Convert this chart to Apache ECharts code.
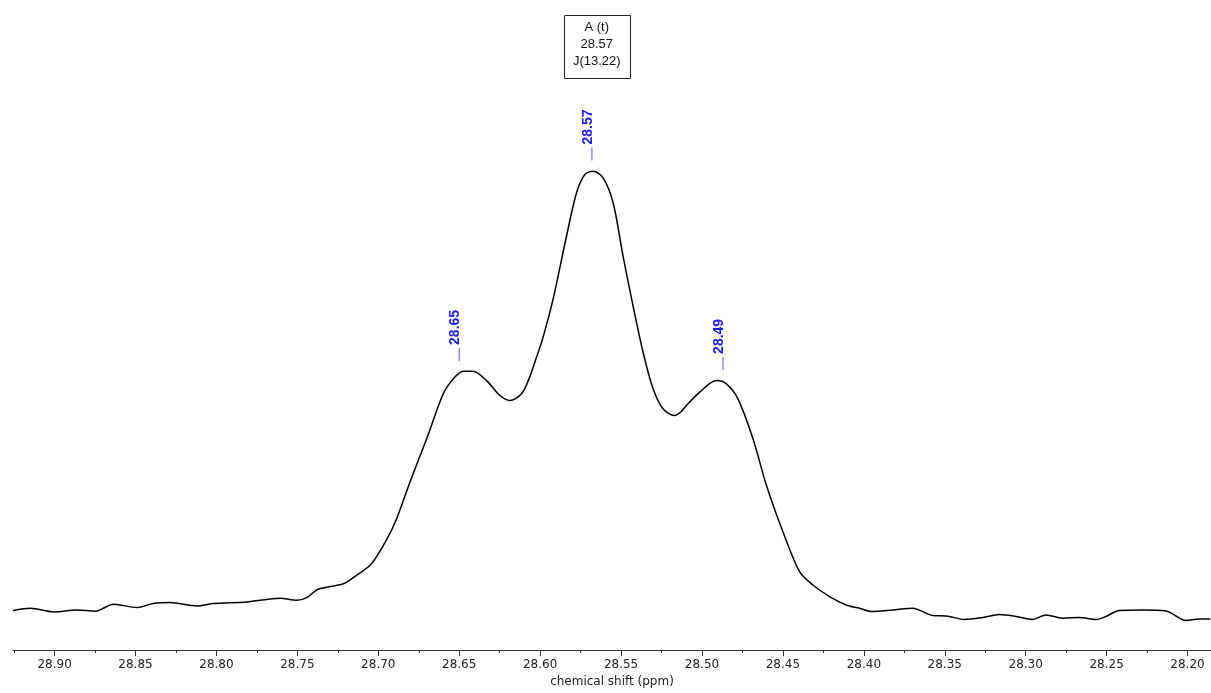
<!DOCTYPE html>
<html>
<head>
<meta charset="utf-8">
<script src="https://cdn.jsdelivr.net/npm/echarts@6/dist/echarts.min.js"></script>
<style>
html,body{margin:0;padding:0;background:#fff;}
#chart{width:1211px;height:693px;}
</style>
</head>
<body>
<div id="chart"></div>
<script>
// Spectrum trace: chemical shift (ppm) and intensity (arbitrary units)
const ppm = [28.9257,28.9150,28.9006,28.8862,28.8749,28.8636,28.8491,28.8391,28.8286,28.8121,
28.8019,28.7812,28.7607,28.7504,28.7442,28.7372,28.7216,28.7133,28.7045,28.6948,
28.6886,28.6804,28.6701,28.6599,28.6537,28.6475,28.6414,28.6331,28.6249,28.6187,
28.6115,28.6064,28.6022,28.5985,28.5920,28.5837,28.5775,28.5724,28.5673,28.5611,
28.5549,28.5488,28.5426,28.5364,28.5302,28.5241,28.5169,28.5130,28.5096,28.5014,28.4911,
28.4849,28.4778,28.4685,28.4602,28.4500,28.4397,28.4315,28.4212,28.4109,28.4027,
28.3954,28.3821,28.3698,28.3574,28.3491,28.3378,28.3265,28.3162,28.3059,28.2957,
28.2874,28.2772,28.2669,28.2565,28.2504,28.2422,28.2278,28.2133,28.2010,28.1928,28.1860];
const intensity = [39.7,42,38.3,40.3,39,46,42.7,46.7,47.7,44.3,
46.7,48.3,52,50,52.7,61,66.5,75.3,86,111,
132,168.7,212,257,272,279.7,279.7,270.3,255.3,250.3,
257,274,294,312,352,415.3,458.7,477,480.3,473.7,
448.7,395.3,345.3,298.7,262,242,235.3,239,245.3,258.7,270.3,
267,252,212,165.3,118.7,78.7,65.3,53.7,45.3,42,
38.7,40.3,42,34.7,34.3,30.7,32.7,35.7,33.7,30.7,
35.3,32,32.7,30.7,33.7,39.7,40.3,39.3,29.7,31.3,31.3];

// Peak picks
const peakPositions = [28.650, 28.568, 28.487];
const peakIntensity = [280, 481, 271];
const peakLabels = ['28.65', '28.57', '28.49'];

// Multiplet annotation
const multipletName = 'A (t)';
const multipletShift = '28.57';
const multipletJ = 'J(13.22)';
const multipletRange = [28.70, 28.43];

// Axis ticks
const majorTicks = [28.90,28.85,28.80,28.75,28.70,28.65,28.60,28.55,28.50,28.45,28.40,28.35,28.30,28.25,28.20];
const minorTicks = [28.925,28.875,28.825,28.775,28.725,28.675,28.625,28.575,28.525,28.475,28.425,28.375,28.325,28.275,28.225];
const xRange = [28.1855, 28.9257];

const trace = ppm.map((v, i) => [v, intensity[i]]);
const peaks = peakPositions.map((v, i) => [v, peakIntensity[i], i]);
const boxCenter = (multipletRange[0] + multipletRange[1]) / 2;

const chart = echarts.init(document.getElementById('chart'), null, {renderer: 'canvas'});
const axisFont = '"DejaVu Sans", Verdana, sans-serif';

chart.setOption({
  animation: false,
  backgroundColor: '#ffffff',
  grid: {left: 13, right: 0, top: 0, bottom: 41, containLabel: false},
  xAxis: [{
    type: 'value', inverse: true, min: xRange[0], max: xRange[1],
    name: 'chemical shift (ppm)', nameLocation: 'middle', nameGap: 22,
    nameTextStyle: {fontFamily: axisFont, fontSize: 12, color: '#222'},
    axisLine: {show: true, lineStyle: {color: '#333', width: 1}},
    axisTick: {show: true, customValues: majorTicks, length: 6, inside: false, lineStyle: {color: '#333'}},
    axisLabel: {show: true, customValues: majorTicks, formatter: v => v.toFixed(2), fontFamily: axisFont, fontSize: 12, color: '#222', margin: 9},
    splitLine: {show: false}
  }, {
    type: 'value', inverse: true, min: xRange[0], max: xRange[1], position: 'bottom',
    axisLine: {show: false},
    axisTick: {show: true, customValues: minorTicks, length: 3, lineStyle: {color: '#333'}},
    axisLabel: {show: false, customValues: minorTicks},
    splitLine: {show: false}
  }],
  yAxis: {type: 'value', min: 0, max: 652, show: false},
  series: [{
    type: 'line', data: trace, xAxisIndex: 0, smooth: 0.3, symbol: 'none',
    lineStyle: {color: '#000', width: 1.5}
  }, {
    type: 'custom', data: peaks, xAxisIndex: 0,
    renderItem: function (params, api) {
      const p = api.coord([api.value(0), api.value(1)]);
      const x = p[0];
      const yb = p[1] - 10;
      return {
        type: 'group',
        children: [{
          type: 'line',
          shape: {x1: x, y1: yb, x2: x, y2: yb - 13},
          style: {stroke: '#5555ff', lineWidth: 1}
        }, {
          type: 'text',
          x: x - 4, y: yb - 16, rotation: Math.PI / 2,
          style: {
            text: peakLabels[api.value(2)],
            fill: '#1a1aff',
            font: 'bold 14px "Liberation Sans", Arial, sans-serif',
            align: 'left', verticalAlign: 'middle'
          }
        }]
      };
    }
  }, {
    type: 'custom', data: [[boxCenter, 0]], xAxisIndex: 0,
    renderItem: function (params, api) {
      const x = api.coord([api.value(0), 0])[0];
      return {
        type: 'group',
        children: [{
          type: 'rect',
          shape: {x: Math.round(x - 33) + 0.5, y: 15.5, width: 66, height: 63},
          style: {fill: '#fff', stroke: '#222', lineWidth: 1}
        }, {
          type: 'text',
          x: x, y: 19,
          style: {
            text: multipletName + '\n' + multipletShift + '\n' + multipletJ,
            fill: '#111',
            font: '13px "Liberation Sans", Arial, sans-serif',
            lineHeight: 17,
            align: 'center', verticalAlign: 'top'
          }
        }]
      };
    }
  }]
});
</script>
</body>
</html>
